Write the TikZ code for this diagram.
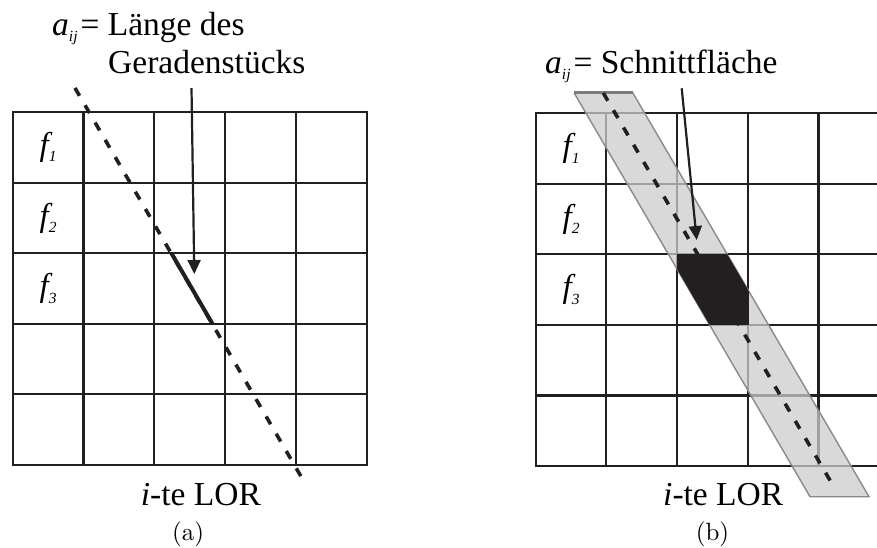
\documentclass[tikz,border=0pt]{standalone}
\usepackage{fontspec}
\newfontfamily\tnr{Liberation Serif}
\newfontfamily\lmten{lmroman10-regular}[Extension=.otf]
\usetikzlibrary{arrows.meta}
\definecolor{gridc}{HTML}{231F20}
\definecolor{bandfill}{HTML}{CCCCCC}
\definecolor{bandedge}{HTML}{8A8A8A}
\tikzset{
 gridline/.style={draw=gridc, line width=2.1pt, line cap=rect},
 lor/.style={draw=gridc, line width=3.6pt, dash pattern=on 9pt off 11pt},
 segline/.style={draw=gridc, line width=4pt},
 pointer/.style={draw=gridc, line width=2.2pt, -{Triangle[length=14pt,width=13pt]}},
 lbl/.style={inner sep=0pt, anchor=base west, font=\tnr\fontsize{33.5}{38}\selectfont},
 flbl/.style={inner sep=0pt, anchor=center, font=\tnr\fontsize{33}{36}\selectfont\itshape},
 capt/.style={inner sep=0pt, anchor=base, font=\lmten\fontsize{25}{28}\selectfont},
}
\newcommand{\subx}[1]{\raisebox{-6.5pt}{\fontsize{15.5}{15.5}\selectfont\itshape #1}}

\begin{document}
\begin{tikzpicture}[x=1pt,y=-1pt]
\useasboundingbox (0,0) rectangle (877,547);

% ---------- (a) ----------
\foreach \i in {0,...,5} {
  \draw[gridline] ({12.7+70.8*\i},112) -- ({12.7+70.8*\i},465);
  \draw[gridline] (12.7,{112+70.6*\i}) -- (366.7,{112+70.6*\i});
}
\node[flbl] (fa1) at (48.1,147.3) {f\subx{1}};
\node[flbl] (fa2) at (48.1,217.9) {f\subx{2}};
\node[flbl] (fa3) at (48.1,288.5) {f\subx{3}};

\coordinate (lorA0) at (75,88);
\coordinate (lorA1) at (306,485);
\draw[lor] (lorA0) -- (lorA1);
\coordinate (segA0) at (171.3,253);
\coordinate (segA1) at (212.4,323.7);
\draw[segline] (segA0) -- (segA1);

\node[lbl] (ta1) at (52,35) {\textit{a}\subx{ij}\hspace{3pt}= Länge des};
\node[lbl] (ta2) at (108,73) {Geradenstücks};
\coordinate (pA0) at (191.5,88);
\coordinate (pA1) at (194.3,274);
\draw[pointer] (pA0) -- (pA1);

\node[lbl] (lorAlbl) at (140.7,505) {\textit{i}-te LOR};
\node[capt] (capA) at (188,540) {(a)};

% ---------- (b) ----------
\foreach \i in {0,...,5} {
  \draw[gridline] ({535.7+70.7*\i},113.3) -- ({535.7+70.7*\i},466);
  \draw[gridline] (535.7,{113.3+70.55*\i}) -- (889.2,{113.3+70.55*\i});
}
\node[flbl] (fb1) at (571.1,148.6) {f\subx{1}};
\node[flbl] (fb2) at (571.1,219.2) {f\subx{2}};
\node[flbl] (fb3) at (571.1,289.7) {f\subx{3}};

\coordinate (bTL) at (574,92.7);
\coordinate (bTR) at (632.7,92.7);
\coordinate (bBR) at (869,496.7);
\coordinate (bBL) at (810,496.7);
\fill[bandfill, fill opacity=0.75] (bTL) -- (bTR) -- (bBR) -- (bBL) -- cycle;
\draw[bandedge, line width=1.4pt] (bTR) -- (bBR) -- (bBL) -- (bTL);
\draw[bandedge!90!black, line width=2.6pt] (bTL) -- (bTR);
\begin{scope}
  \clip (bTL) -- (bTR) -- (bBR) -- (bBL) -- cycle;
  \fill[gridc] (677.1,254.4) rectangle (748.5,324.95);
\end{scope}

\coordinate (lorB0) at (603.3,93);
\coordinate (lorB1) at (834.5,488);
\draw[lor] (lorB0) -- (lorB1);

\node[lbl] (tb1) at (545,73) {\textit{a}\subx{ij}\hspace{3pt}= Schnittfläche};
\coordinate (pB0) at (681.7,88.3);
\coordinate (pB1) at (696.7,240);
\draw[pointer] (pB0) -- (pB1);

\node[lbl] (lorBlbl) at (663,505) {\textit{i}-te LOR};
\node[capt] (capB) at (712.5,540) {(b)};
\end{tikzpicture}
\end{document}
